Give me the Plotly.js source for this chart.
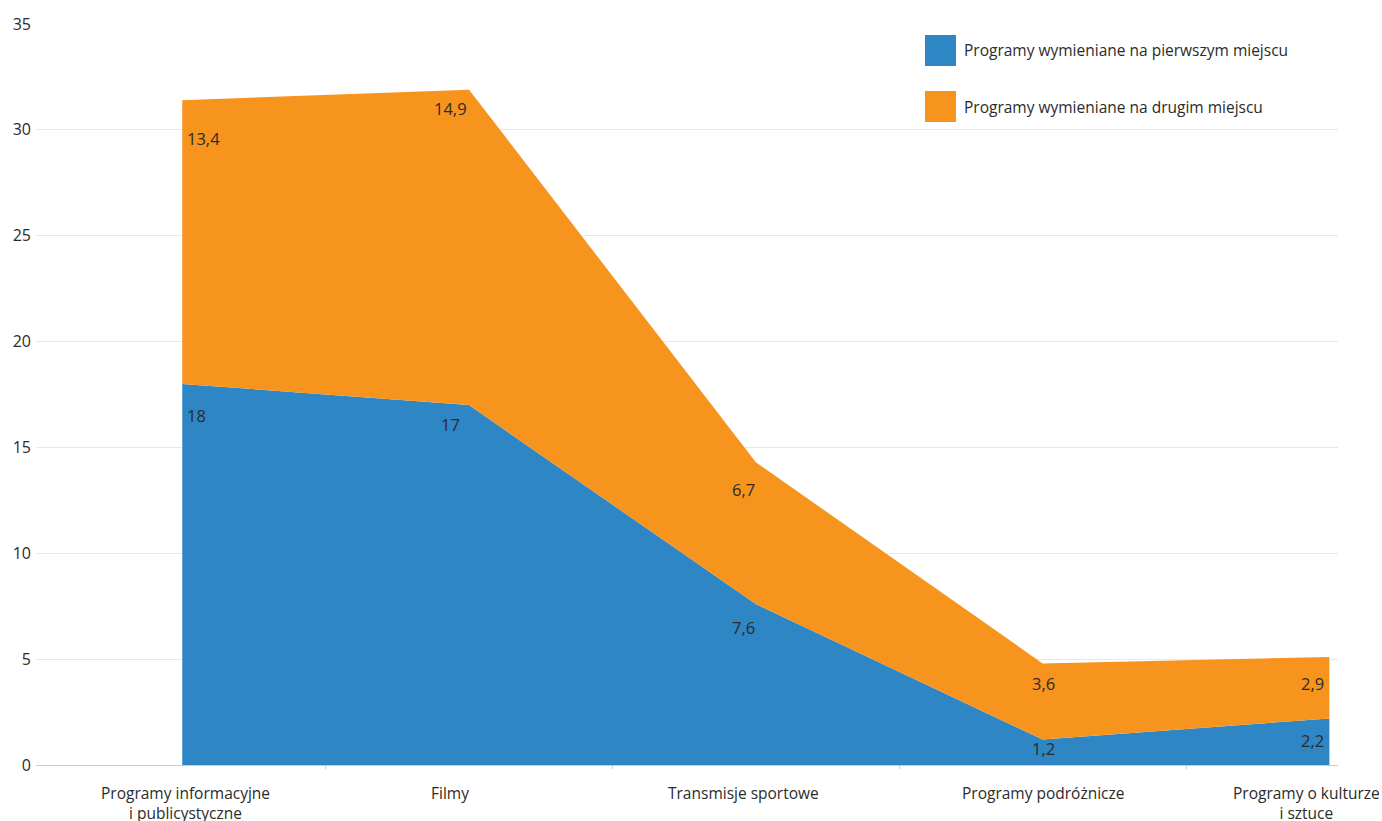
<!DOCTYPE html>
<html>
<head>
<meta charset="utf-8">
<script src="https://cdn.plot.ly/plotly-3.0.1.min.js"></script>
<style>html,body{margin:0;padding:0;background:#fff;}#chart{width:1382px;height:821px;}</style>
</head>
<body>
<div id="chart"></div>
<script>
// ---- data ----
const categories = [
  "Programy informacyjne<br>i publicystyczne",
  "Filmy",
  "Transmisje sportowe",
  "Programy podróżnicze",
  "Programy o kulturze<br>i sztuce"
];
const seriesNames = [
  "Programy wymieniane na pierwszym miejscu",
  "Programy wymieniane na drugim miejscu"
];
const firstPlace = [18, 17, 7.6, 1.2, 2.2];
const secondPlace = [13.4, 14.9, 6.7, 3.6, 2.9];
const yTicks = [0, 5, 10, 15, 20, 25, 30, 35];

// ---- style ----
const colors = ["#2E86C4", "#F7941E"];
const FONT = "'Open Sans', 'Noto Sans', sans-serif";
const TXT = "#2b2b2b";
const labelShift = [0, -19, -12, 1, -23];          // px offsets of labels along x
const blueDy = [32, 19, 23, 9, 22];                // px below the point (label centre)
const orangeDy = [38, 19, 27, 20, 26];
const fmt = v => String(v).replace(".", ",");
const idx = categories.map((_, i) => i);

const traces = [
  {x: idx, y: firstPlace, name: seriesNames[0], type: "scatter", mode: "lines",
   stackgroup: "one", line: {width: 0, color: colors[0]}, fillcolor: colors[0], hoverinfo: "y"},
  {x: idx, y: secondPlace, name: seriesNames[1], type: "scatter", mode: "lines",
   stackgroup: "one", line: {width: 0, color: colors[1]}, fillcolor: colors[1], hoverinfo: "y"}
];

const annotations = [];
// x-axis category labels
categories.forEach((c, i) => {
  annotations.push({x: i, y: 0, xref: "x", yref: "paper", text: c, showarrow: false,
    xanchor: "center", yanchor: "top", yshift: -15, xshift: i === 0 ? 3 : labelShift[i],
    align: "center", font: {family: FONT, size: 15.5, color: TXT}});
});
// value labels
function anchorFor(i){ return i === 0 ? "left" : (i === categories.length - 1 ? "right" : "center"); }
function shiftFor(i){ return i === 0 ? 3 : (i === categories.length - 1 ? -3 : labelShift[i]); }
firstPlace.forEach((v, i) => {
  annotations.push({x: i, y: v, xref: "x", yref: "y", text: fmt(v), showarrow: false,
    xanchor: anchorFor(i), yanchor: "middle", xshift: shiftFor(i), yshift: -blueDy[i],
    font: {family: FONT, size: 16.5, color: TXT}});
});
secondPlace.forEach((v, i) => {
  annotations.push({x: i, y: firstPlace[i] + v, xref: "x", yref: "y", text: fmt(v), showarrow: false,
    xanchor: anchorFor(i), yanchor: "middle", xshift: shiftFor(i), yshift: -orangeDy[i],
    font: {family: FONT, size: 16.5, color: TXT}});
});
// custom legend
const shapes = [];
const legendX0 = 0.6828, legendX1 = 0.7066;
const legendRows = [[0.9852, 0.9433], [0.9096, 0.8677]];
seriesNames.forEach((n, i) => {
  shapes.push({type: "rect", xref: "paper", yref: "paper", x0: legendX0, x1: legendX1,
    y0: legendRows[i][1], y1: legendRows[i][0], fillcolor: colors[i], line: {width: 0}});
  annotations.push({xref: "paper", yref: "paper", x: 0.7112, y: (legendRows[i][0] + legendRows[i][1]) / 2,
    text: n, showarrow: false, xanchor: "left", yanchor: "middle",
    font: {family: FONT, size: 15.5, color: TXT}});
});

const layout = {
  width: 1382, height: 821,
  margin: {l: 36, r: 44, t: 24, b: 56},
  paper_bgcolor: "#ffffff", plot_bgcolor: "#ffffff",
  showlegend: false,
  font: {family: FONT, size: 16, color: TXT},
  xaxis: {range: [-0.51, 4.03], showticklabels: false, showgrid: false, zeroline: false,
    showline: true, linecolor: "#cccccc", linewidth: 1, tickvals: [0.5, 1.5, 2.5, 3.5],
    ticks: "outside", ticklen: 3, tickcolor: "#cccccc", fixedrange: true},
  yaxis: {range: [0, 35], tickvals: yTicks, ticktext: yTicks.map(String), showgrid: true,
    gridcolor: "#e8e8e8", gridwidth: 1, zeroline: false, showline: false, ticks: "",
    ticklabelstandoff: 4, tickfont: {family: FONT, size: 16, color: TXT}, fixedrange: true},
  annotations: annotations,
  shapes: shapes
};

Plotly.newPlot("chart", traces, layout, {displayModeBar: false, staticPlot: true});
</script>
</body>
</html>
